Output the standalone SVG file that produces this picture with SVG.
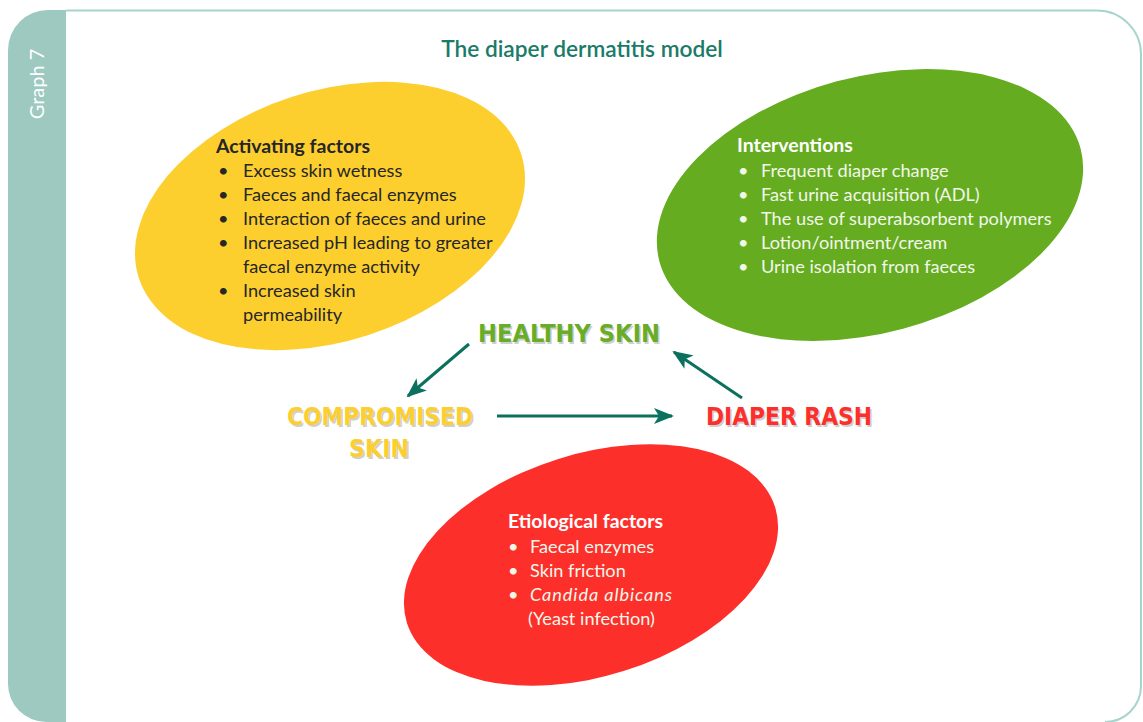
<svg xmlns="http://www.w3.org/2000/svg" width="1143" height="722" viewBox="0 0 1143 722">
<defs>
<style>
.t{font-family:Lato,"Open Sans","Liberation Sans",sans-serif;}
.hd{font-weight:bold;font-size:19.5px;}
.it{font-size:18.2px;}
.dk{fill:#262626;}
.wh{fill:#ffffff;}
.wg{fill:#f2f7ea;}
.big{font-family:"Liberation Sans Narrow","DejaVu Sans Condensed","Liberation Sans",sans-serif;font-weight:bold;font-size:25px;}
.conn{stroke:#0c705f;stroke-width:3;fill:none;}
</style>
<marker id="ah" viewBox="0 0 20 16" refX="18" refY="8" markerWidth="20" markerHeight="16" markerUnits="userSpaceOnUse" orient="auto">
<path d="M0,0 L20,8 L0,16 L5,8 Z" fill="#0c705f"/>
</marker>
</defs>
<rect width="1143" height="722" fill="#ffffff"/>
<g id="frame">
<path d="M66,10 L48,10 A40,40 0 0 0 8,50 L8,684 A38,38 0 0 0 46,722 L66,722 Z" fill="#9dc9c1"/>
<path d="M66,10.5 L1097,10.5 A44,44 0 0 1 1141,54.5 L1141,686 A36,36 0 0 1 1105,722" fill="none" stroke="#a7d4cb" stroke-width="2"/>
<text class="t" x="0" y="0" transform="translate(44,84) rotate(-90)" text-anchor="middle" font-size="20" fill="#ffffff">Graph 7</text>
</g>
<g id="title">
<text class="t" x="582" y="57" text-anchor="middle" font-size="22.7" font-weight="600" fill="#1a7b68">The diaper dermatitis model</text>
</g>
<g id="activating">
<ellipse cx="330" cy="216" rx="201" ry="125" transform="rotate(-18 330 216)" fill="#fccf2f"/>
<text class="t hd dk" x="216" y="153">Activating factors</text>
<g class="t it dk">
<text x="218" y="177">•</text><text x="243" y="177">Excess skin wetness</text>
<text x="218" y="201">•</text><text x="243" y="201">Faeces and faecal enzymes</text>
<text x="218" y="225">•</text><text x="243" y="225">Interaction of faeces and urine</text>
<text x="218" y="249">•</text><text x="243" y="249">Increased pH leading to greater</text>
<text x="243" y="273">faecal enzyme activity</text>
<text x="218" y="297">•</text><text x="243" y="297">Increased skin</text>
<text x="243" y="321">permeability</text>
</g>
</g>
<g id="interventions">
<ellipse cx="870" cy="205" rx="218" ry="128" transform="rotate(-15 870 205)" fill="#65ac21"/>
<text class="t hd wh" x="737" y="152">Interventions</text>
<g class="t it wg">
<text x="738" y="177">•</text><text x="761" y="177">Frequent diaper change</text>
<text x="738" y="201">•</text><text x="761" y="201">Fast urine acquisition (ADL)</text>
<text x="738" y="225">•</text><text x="761" y="225">The use of superabsorbent polymers</text>
<text x="738" y="249">•</text><text x="761" y="249">Lotion/ointment/cream</text>
<text x="738" y="273">•</text><text x="761" y="273">Urine isolation from faeces</text>
</g>
</g>
<g id="etiological">
<ellipse cx="591" cy="565" rx="193" ry="111" transform="rotate(-17.5 591 565)" fill="#fd2f2b"/>
<text class="t hd wh" x="508" y="528">Etiological factors</text>
<g class="t it wg">
<text x="508" y="553">•</text><text x="530" y="553">Faecal enzymes</text>
<text x="508" y="577">•</text><text x="530" y="577">Skin friction</text>
<text x="508" y="601">•</text><text x="530" y="601" font-style="italic" textLength="142">Candida albicans</text>
<text x="528" y="625">(Yeast infection)</text>
</g>
</g>
<g id="healthy-skin">
<text class="big" x="479.5" y="343.5" textLength="182" lengthAdjust="spacingAndGlyphs" fill="#cfcfcf">HEALTHY SKIN</text>
<text class="big" x="478" y="342" textLength="182" lengthAdjust="spacingAndGlyphs" fill="#68ad27">HEALTHY SKIN</text>
</g>
<g id="compromised-skin">
<text class="big" x="288.5" y="426.5" textLength="186" lengthAdjust="spacingAndGlyphs" fill="#cfcfcf">COMPROMISED</text>
<text class="big" x="287" y="425" textLength="186" lengthAdjust="spacingAndGlyphs" fill="#fccf2f">COMPROMISED</text>
<text class="big" x="350.5" y="458.5" textLength="60" lengthAdjust="spacingAndGlyphs" fill="#cfcfcf">SKIN</text>
<text class="big" x="349" y="457" textLength="60" lengthAdjust="spacingAndGlyphs" fill="#fccf2f">SKIN</text>
</g>
<g id="diaper-rash">
<text class="big" x="707.5" y="426.5" textLength="166" lengthAdjust="spacingAndGlyphs" fill="#cfcfcf">DIAPER RASH</text>
<text class="big" x="706" y="425" textLength="166" lengthAdjust="spacingAndGlyphs" fill="#fd2f2b">DIAPER RASH</text>
</g>
<g id="connectors">
<line class="conn" x1="469" y1="344" x2="408" y2="396" marker-end="url(#ah)"/>
<line class="conn" x1="497" y1="416" x2="672" y2="416" marker-end="url(#ah)"/>
<line class="conn" x1="742" y1="398" x2="674" y2="352" marker-end="url(#ah)"/>
</g>
</svg>
